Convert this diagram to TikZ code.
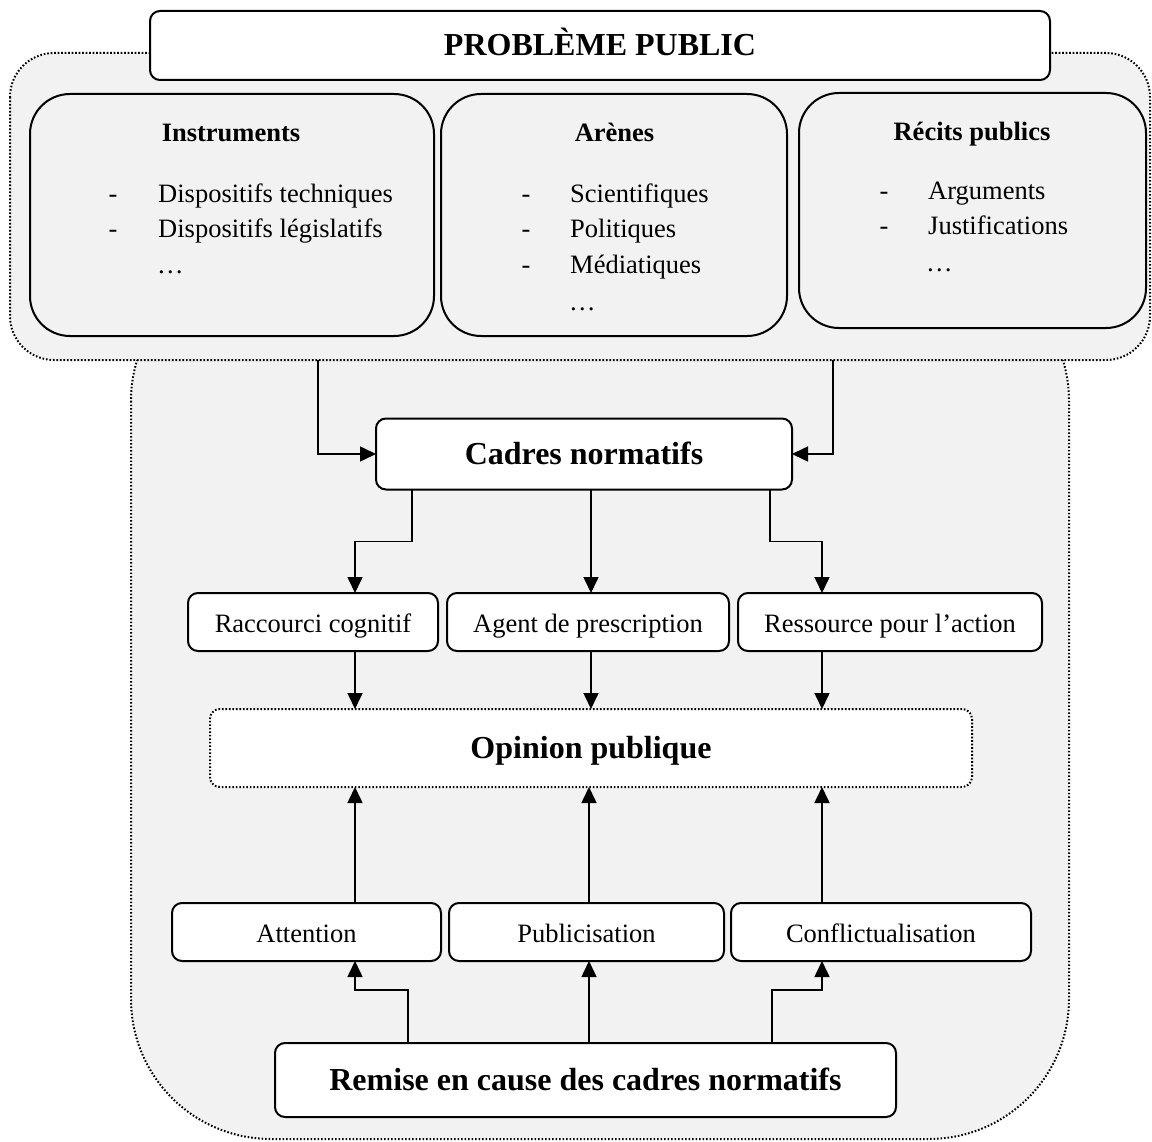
\documentclass[tikz,border=0pt]{standalone}
\usepackage{fontspec}
\setmainfont{Liberation Serif}
\usetikzlibrary{arrows.meta}
\definecolor{bggray}{HTML}{F2F2F2}
\begin{document}
\begin{tikzpicture}[x=1pt,y=-1pt,
  dotline/.style={line width=2pt, dash pattern=on 1.6pt off 1.9pt},
  panel/.style={draw, line width=2pt, rounded corners=40pt, fill=bggray, inner sep=0pt, outer sep=0pt},
  wbox/.style={draw, line width=2pt, rounded corners=10pt, fill=white, inner sep=0pt, outer sep=0pt},
  obox/.style={draw, dotline, rounded corners=10pt, fill=white, inner sep=0pt, outer sep=0pt},
  lbl/.style={font=\fontsize{26.5pt}{32pt}\selectfont, inner sep=0pt},
  bxt/.style={font=\fontsize{26.5pt}{32pt}\selectfont, text height=22pt, text depth=2pt},
  blbl/.style={font=\fontsize{26.5pt}{32pt}\selectfont\bfseries, inner sep=0pt},
  big/.style={font=\fontsize{32pt}{38pt}\selectfont\bfseries, text height=24pt, text depth=4pt},
  conn/.style={line width=1.6pt, -{Triangle[length=16pt,width=15pt]}},
]
\useasboundingbox (0,0) rectangle (1152,1142);

% background shapes
\path[fill=bggray, draw=black, dotline, rounded corners=140pt] (131,261) rectangle (1069,1139);
\path[fill=bggray, draw=black, dotline, rounded corners=44pt] (10,53) rectangle (1150,360);

% title
\node[wbox, big, minimum width=900pt, minimum height=69pt] (pp) at (600,45.5) {PROBLÈME PUBLIC};

% panels
\node[panel, minimum width=404pt, minimum height=242pt] (inst) at (232,215) {};
\node[panel, minimum width=346pt, minimum height=242pt] (aren) at (614,215) {};
\node[panel, minimum width=347pt, minimum height=235pt] (reci) at (972.5,210.5) {};

% Instruments text
\node[blbl, anchor=base] (instH) at (231,142) {Instruments};
\node[lbl, anchor=base] (instD1) at (113,203) {-};
\node[lbl, anchor=base west] (instT1) at (158,203) {Dispositifs techniques};
\node[lbl, anchor=base] (instD2) at (113,238) {-};
\node[lbl, anchor=base west] (instT2) at (158,238) {Dispositifs législatifs};
\node[lbl, anchor=base west] (instE) at (157,273) {…};

% Arènes text
\node[blbl, anchor=base] (arenH) at (614.5,142) {Arènes};
\node[lbl, anchor=base] (arenD1) at (526,203) {-};
\node[lbl, anchor=base west] (arenT1) at (570,203) {Scientifiques};
\node[lbl, anchor=base] (arenD2) at (526,238) {-};
\node[lbl, anchor=base west] (arenT2) at (570,238) {Politiques};
\node[lbl, anchor=base] (arenD3) at (526,273) {-};
\node[lbl, anchor=base west] (arenT3) at (570,273) {Médiatiques};
\node[lbl, anchor=base west] (arenE) at (569,310) {…};

% Récits text
\node[blbl, anchor=base] (reciH) at (972,141) {Récits publics};
\node[lbl, anchor=base] (reciD1) at (884,200) {-};
\node[lbl, anchor=base west] (reciT1) at (928,200) {Arguments};
\node[lbl, anchor=base] (reciD2) at (884,235) {-};
\node[lbl, anchor=base west] (reciT2) at (928,235) {Justifications};
\node[lbl, anchor=base west] (reciE) at (926,272) {…};

% Cadres normatifs
\node[wbox, big, minimum width=416pt, minimum height=71pt] (cad) at (584,454) {Cadres normatifs};

% row 1
\node[wbox, bxt, minimum width=250pt, minimum height=58pt] (rac) at (313,622) {Raccourci cognitif};
\node[wbox, bxt, minimum width=282pt, minimum height=58pt] (age) at (588,622) {Agent de prescription};
\node[wbox, bxt, minimum width=304pt, minimum height=58pt] (res) at (890,622) {Ressource pour l’action};

% opinion publique
\node[obox, big, minimum width=762pt, minimum height=78pt] (op) at (591,748) {Opinion publique};

% row 2
\node[wbox, bxt, minimum width=269pt, minimum height=58pt] (att) at (306.5,932) {Attention};
\node[wbox, bxt, minimum width=275pt, minimum height=58pt] (pub) at (586.5,932) {Publicisation};
\node[wbox, bxt, minimum width=300pt, minimum height=58pt] (con) at (881,932) {Conflictualisation};

% remise en cause
\node[wbox, big, minimum width=621pt, minimum height=74pt] (rem) at (585.5,1080) {Remise en cause des cadres normatifs};

% connectors: panels -> cadres
\coordinate (s1) at (318,360);
\coordinate (s2) at (833,360);
\draw[conn] (s1) |- (cad.west);
\draw[conn] (s2) |- (cad.east);

% cadres -> row 1
\draw[conn] ([xshift=-172pt]cad.south) -- ++(0,52) -| ([xshift=42pt]rac.north);
\draw[conn] ([xshift=7pt]cad.south) -- ([xshift=7pt]cad.south |- age.north);
\draw[conn] ([xshift=186pt]cad.south) -- ++(0,52) -| ([xshift=-68pt]res.north);

% row 1 -> opinion
\draw[conn] ([xshift=42pt]rac.south) -- ([xshift=42pt]rac.south |- op.north);
\draw[conn] ([xshift=3pt]age.south) -- ([xshift=3pt]age.south |- op.north);
\draw[conn] ([xshift=-68pt]res.south) -- ([xshift=-68pt]res.south |- op.north);

% row 2 -> opinion
\draw[conn] ([xshift=48.5pt]att.north) -- ([xshift=48.5pt]att.north |- op.south);
\draw[conn] ([xshift=2.5pt]pub.north) -- ([xshift=2.5pt]pub.north |- op.south);
\draw[conn] ([xshift=-59pt]con.north) -- ([xshift=-59pt]con.north |- op.south);

% remise -> row 2
\draw[conn] ([xshift=-177.5pt]rem.north) -- ++(0,-53) -| ([xshift=48.5pt]att.south);
\draw[conn] ([xshift=3.5pt]rem.north) -- ([xshift=3.5pt]rem.north |- pub.south);
\draw[conn] ([xshift=186.5pt]rem.north) -- ++(0,-53) -| ([xshift=-59pt]con.south);
\end{tikzpicture}
\end{document}
